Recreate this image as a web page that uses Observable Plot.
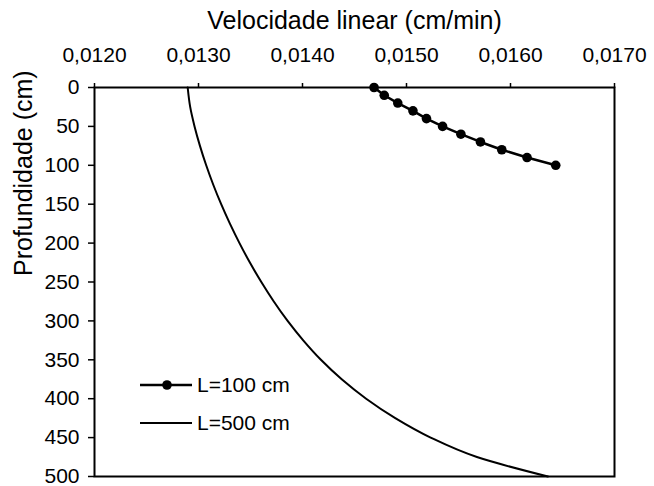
<!DOCTYPE html>
<html>
<head>
<meta charset="utf-8">
<script src="https://cdn.jsdelivr.net/npm/d3@7"></script>
<script src="https://cdn.jsdelivr.net/npm/@observablehq/plot@0.6"></script>
<style>
  html, body { margin: 0; padding: 0; background: #fff; }
  #chart { position: relative; width: 654px; height: 486px; font-family: "Liberation Sans", Arial, sans-serif; }
  #legend { position: absolute; left: 140px; top: 366px; font-size: 21px; color: #000; }
  #legend .item { display: flex; align-items: center; height: 38px; }
  #legend svg { margin-right: 5px; }
</style>
</head>
<body>
<div id="chart">
  <div id="legend"></div>
</div>
<script>
// Depth (cm) and linear velocity (cm/min) for column length L = 100 cm
const depth100 = [0, 10, 20, 30, 40, 50, 60, 70, 80, 90, 100];
const vel100 = [0.014688, 0.014786, 0.014916, 0.015062, 0.015192, 0.015347,
                0.015523, 0.015711, 0.015916, 0.016159, 0.016435];

// Depth (cm) and linear velocity (cm/min) for column length L = 500 cm
const depth500 = [0, 25, 50, 75, 100, 125, 150, 175, 200, 225, 250, 275, 300,
                  325, 350, 375, 400, 425, 450, 475, 500];
const vel500 = [0.012896, 0.012920, 0.012962, 0.013014, 0.013074, 0.013142,
                0.013218, 0.013302, 0.013394, 0.013494, 0.013604, 0.013724,
                0.013857, 0.014007, 0.014177, 0.014377, 0.014612, 0.014892,
                0.015232, 0.015677, 0.016360];

const xTicks = [0.012, 0.013, 0.014, 0.015, 0.016, 0.017];
const yTicks = [0, 50, 100, 150, 200, 250, 300, 350, 400, 450, 500];
const seriesNames = ["L=100 cm", "L=500 cm"];

const s100 = depth100.map((d, i) => ({depth: d, vel: vel100[i]}));
const s500 = depth500.map((d, i) => ({depth: d, vel: vel500[i]}));

const fmt = d => d.toFixed(4).replace(".", ",");

const plot = Plot.plot({
  width: 654,
  height: 486,
  marginLeft: 94,
  marginRight: 40,
  marginTop: 87,
  marginBottom: 10,
  style: {fontFamily: "Liberation Sans, Arial, sans-serif", fontSize: "21px", color: "#000", background: "#fff"},
  x: {domain: [0.012, 0.017]},
  y: {domain: [0, 500], reverse: true},
  marks: [
    Plot.axisX({anchor: "top", ticks: xTicks, tickFormat: fmt, tickSize: 5, tickPadding: 21, label: null, strokeWidth: 1.5}),
    Plot.axisY({anchor: "left", ticks: yTicks, tickSize: 6, tickPadding: 9, label: null, strokeWidth: 1.5}),
    Plot.frame({stroke: "#000", strokeWidth: 2}),
    Plot.line(s500, {x: "vel", y: "depth", stroke: "#000", strokeWidth: 2, curve: "monotone-y"}),
    Plot.line(s100, {x: "vel", y: "depth", stroke: "#000", strokeWidth: 2.5}),
    Plot.dot(s100, {x: "vel", y: "depth", r: 4.8, fill: "#000", stroke: "none"}),
    Plot.text(["Velocidade linear (cm/min)"], {frameAnchor: "top", dy: -59, lineAnchor: "bottom", fontSize: 25}),
    Plot.text(["Profundidade (cm)"], {frameAnchor: "left", dx: -71, dy: -6, rotate: -90, fontSize: 25})
  ]
});

const chart = document.getElementById("chart");
chart.insertBefore(plot, chart.firstChild);

// Legend drawn over the plot area
const legend = d3.select("#legend");
seriesNames.forEach((name, i) => {
  const item = legend.append("div").attr("class", "item");
  const sw = item.append("svg").attr("width", 52).attr("height", 12);
  sw.append("line").attr("x1", 0).attr("x2", 52).attr("y1", 6).attr("y2", 6)
    .attr("stroke", "#000").attr("stroke-width", i === 0 ? 2.5 : 2);
  if (i === 0) sw.append("circle").attr("cx", 27).attr("cy", 6).attr("r", 4.8).attr("fill", "#000");
  item.append("span").text(name);
});
</script>
</body>
</html>
